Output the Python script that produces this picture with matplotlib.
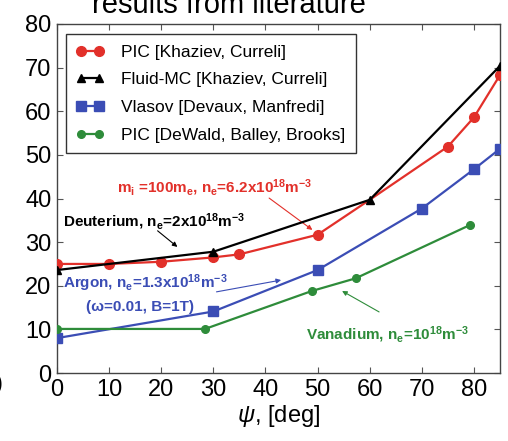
import matplotlib
matplotlib.use('Agg')
import matplotlib.pyplot as plt
from matplotlib.lines import Line2D

plt.rcParams['font.family'] = ['Liberation Sans', 'DejaVu Sans']
plt.rcParams['mathtext.fontset'] = 'custom'
plt.rcParams['mathtext.rm'] = 'Liberation Sans:bold'
plt.rcParams['mathtext.it'] = 'Liberation Sans:italic'
plt.rcParams['mathtext.bf'] = 'Liberation Sans:bold'

# data
pic_kc_x = [0, 10, 20, 30, 35, 50, 60, 75, 80, 85]
pic_kc_y = [25.0, 25.0, 25.5, 26.5, 27.2, 31.7, 39.7, 51.9, 58.6, 68.3]
fluid_x = [0, 30, 60, 85]
fluid_y = [23.6, 27.8, 39.7, 70.4]
vlasov_x = [0, 30, 50, 70, 80, 85]
vlasov_y = [8.0, 14.1, 23.6, 37.7, 46.7, 51.4]
dewald_x = [0, 28.4, 48.9, 57.3, 79.2]
dewald_y = [10.1, 10.1, 18.8, 21.7, 33.9]

labels = ['PIC [Khaziev, Curreli]', 'Fluid-MC [Khaziev, Curreli]',
          'Vlasov [Devaux, Manfredi]', 'PIC [DeWald, Balley, Brooks]']
x_ticks = [0, 10, 20, 30, 40, 50, 60, 70, 80]
y_ticks = [0, 10, 20, 30, 40, 50, 60, 70, 80]

red = '#e2302a'
blue = '#3b4db5'
green = '#2e8c3a'

fig = plt.figure(figsize=(5.08, 4.41), dpi=100)
ax = fig.add_axes([57 / 508, 1 - 373 / 441, 443 / 508, 349 / 441])

# red marker at 60 sits under the black triangle
ax.plot(pic_kc_x, pic_kc_y, '-o', color=red, lw=1.6, ms=7,
        markevery=[0, 1, 2, 3, 4, 5, 7, 8, 9], zorder=3)
ax.plot(fluid_x, fluid_y, '-^', color='black', lw=1.6, ms=6, zorder=4)
ax.plot(vlasov_x, vlasov_y, '-s', color=blue, lw=1.6, ms=7, zorder=3)
ax.plot(dewald_x, dewald_y, '-o', color=green, lw=1.6, ms=5.5, zorder=3)

ax.set_xlim(0, 85)
ax.set_ylim(0, 80)
ax.set_xticks(x_ticks)
ax.set_yticks(y_ticks)
ax.tick_params(direction='in', top=True, right=True, length=4, width=0.8,
               labelsize=17, pad=4, colors='#555555', labelcolor='black')
for s in ax.spines.values():
    s.set_color('#444444')
    s.set_linewidth(1.0)
ax.set_xlabel(r'$\psi$, [deg]', fontsize=17, labelpad=2)

handles = [
    Line2D([], [], color=red, marker='o', lw=1.6, ms=7),
    Line2D([], [], color='black', marker='^', lw=1.6, ms=6),
    Line2D([], [], color=blue, marker='s', lw=1.6, ms=7),
    Line2D([], [], color=green, marker='o', lw=1.6, ms=5.5),
]
leg = ax.legend(handles, labels, loc='upper left', bbox_to_anchor=(0.02, 0.971),
                borderaxespad=0, fontsize=12.5, numpoints=2, handlelength=1.6,
                handletextpad=1.0, labelspacing=0.72, fancybox=False,
                framealpha=1, edgecolor='#333333', borderpad=0.6)
leg.get_frame().set_linewidth(1.0)

bold = dict(fontsize=11, fontweight='bold', va='center', ha='left')
ax.text(11.5, 42.4, r'm$_\mathrm{i}$ =100m$_\mathrm{e}$, n$_\mathrm{e}$=6.2x10$^\mathrm{18}$m$^\mathrm{-3}$',
        color=red, **bold)
ax.annotate('', xy=(49, 32.8), xytext=(40.7, 40.1),
            arrowprops=dict(arrowstyle='-|>', color=red, lw=0.8, mutation_scale=7,
                            shrinkA=0, shrinkB=0))
ax.text(1.1, 34.6, r'Deuterium, n$_\mathrm{e}$=2x10$^\mathrm{18}$m$^\mathrm{-3}$',
        color='black', **bold)
ax.annotate('', xy=(23.1, 28.9), xytext=(19.3, 32.6),
            arrowprops=dict(arrowstyle='-|>', color='black', lw=0.8, mutation_scale=7,
                            shrinkA=0, shrinkB=0))
ax.text(1.1, 20.6, r'Argon, n$_\mathrm{e}$=1.3x10$^\mathrm{18}$m$^\mathrm{-3}$',
        color=blue, **bold)
ax.text(16.0, 15.1, '(ω=0.01, B=1T)', color=blue, fontsize=11,
        fontweight='bold', va='center', ha='center')
ax.annotate('', xy=(43.0, 21.3), xytext=(30.6, 18.6),
            arrowprops=dict(arrowstyle='-|>', color=blue, lw=0.8, mutation_scale=7,
                            shrinkA=0, shrinkB=0))
ax.text(47.8, 8.7, r'Vanadium, n$_\mathrm{e}$=10$^\mathrm{18}$m$^\mathrm{-3}$',
        color=green, **bold)
ax.annotate('', xy=(54.7, 18.8), xytext=(61.8, 14.0),
            arrowprops=dict(arrowstyle='-|>', color=green, lw=0.8, mutation_scale=7,
                            shrinkA=0, shrinkB=0))

# cropped title and stray bracket from the source figure
fig.text(0.451, 1 - 13 / 441, 'results from literature', fontsize=21,
         ha='center', va='baseline')
fig.text(0.006, 1 - 384 / 441, ')', fontsize=17, ha='right', va='center')

fig.savefig('out.png', dpi=100)
